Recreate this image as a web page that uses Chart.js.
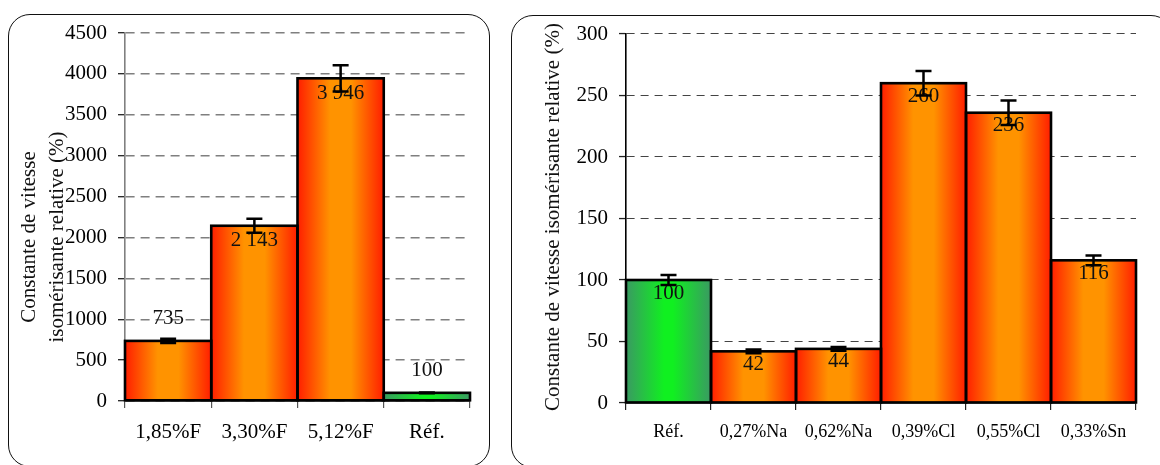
<!DOCTYPE html>
<html><head><meta charset="utf-8">
<script src="https://cdn.jsdelivr.net/npm/chart.js@4.4.1/dist/chart.umd.min.js"></script>
<style>
body{margin:0;background:#fff;width:1160px;height:465px;overflow:hidden;position:relative}
.frame{position:absolute;border:1.3px solid #111;border-radius:22px;box-sizing:border-box}
#f1{left:8px;top:14px;width:482px;height:453px}
#f2{left:511px;top:15px;width:662px;height:453px}
#w1{position:absolute;left:0;top:0;width:500px;height:465px}
#w2{position:absolute;left:500px;top:0;width:660px;height:465px}
</style></head>
<body>
<div class="frame" id="f1"></div><div class="frame" id="f2"></div>
<div id="w1"><canvas id="c1"></canvas></div>
<div id="w2"><canvas id="c2"></canvas></div>
<script>
// ---- data: left chart (fluorine) ----
const leftCategories = ['1,85%F', '3,30%F', '5,12%F', 'Réf.'];
const leftValues = [735, 2143, 3946, 100];
const leftErrors = [25, 85, 160, 5];
const leftIsReference = [false, false, false, true];
const leftLabelAbove = [true, false, false, true];
const leftAxisMax = 4500;
const leftAxisStep = 500;
const leftTitle = ['Constante de vitesse', 'isomérisante relative (%)'];

// ---- data: right chart ----
const rightCategories = ['Réf.', '0,27%Na', '0,62%Na', '0,39%Cl', '0,55%Cl', '0,33%Sn'];
const rightValues = [100, 42, 44, 260, 236, 116];
const rightErrors = [4, 1.5, 1.5, 10, 10, 4];
const rightIsReference = [true, false, false, false, false, false];
const rightLabelAbove = [false, false, false, false, false, false];
const rightAxisMax = 300;
const rightAxisStep = 50;
const rightTitle = ['Constante de vitesse isomérisante relative (%)'];

const ORANGE = [[0, '#ff1e00'], [0.38, '#ff9300'], [0.62, '#ff9300'], [1, '#ff1e00']];
const GREEN = [[0, '#3a9a62'], [0.45, '#10f020'], [0.55, '#10f020'], [1, '#3a9a62']];
const FONT = 'Liberation Serif';

function fmt(v) { return String(v).replace(/\B(?=(\d{3})+(?!\d))/g, ' '); }

function gradFn(isRef) {
  return function (c) {
    const fallback = isRef[c.dataIndex] ? '#10f020' : '#ff9300';
    if (c.type !== 'data') return '#ff9300';
    const xs = c.chart.scales.x;
    if (!xs) return fallback;
    const n = c.chart.data.labels.length;
    const w = xs.width / n;
    const cx = xs.getPixelForValue(c.dataIndex);
    if (!isFinite(w) || !isFinite(cx) || w <= 0) return fallback;
    const g = c.chart.ctx.createLinearGradient(cx - w / 2, 0, cx + w / 2, 0);
    (isRef[c.dataIndex] ? GREEN : ORANGE).forEach(s => g.addColorStop(s[0], s[1]));
    return g;
  };
}

const decor = {
  id: 'decor',
  afterDatasetsDraw(chart, args, o) {
    const ctx = chart.ctx;
    const ys = chart.scales.y;
    const meta = chart.getDatasetMeta(0);
    const vals = chart.data.datasets[0].data;
    ctx.save();
    ctx.strokeStyle = '#000';
    ctx.lineWidth = 2.6;
    meta.data.forEach(el => {
      ctx.strokeRect(el.x - el.width / 2, el.y, el.width, el.base - el.y);
    });
    ctx.fillStyle = '#111';
    ctx.font = o.labelFont + 'px "' + FONT + '"';
    ctx.textAlign = 'center';
    ctx.textBaseline = 'middle';
    meta.data.forEach((el, i) => {
      const dy = o.above[i] ? -o.aboveGap : o.insideGap;
      ctx.fillText(fmt(vals[i]), el.x, el.y + dy);
    });
    ctx.lineWidth = 2.5;
    ctx.strokeStyle = '#000';
    meta.data.forEach((el, i) => {
      const yt = ys.getPixelForValue(vals[i] + o.errors[i]);
      const yb = ys.getPixelForValue(vals[i] - o.errors[i]);
      ctx.beginPath();
      ctx.moveTo(el.x, yt); ctx.lineTo(el.x, yb);
      ctx.moveTo(el.x - 8, yt); ctx.lineTo(el.x + 8, yt);
      ctx.moveTo(el.x - 8, yb); ctx.lineTo(el.x + 8, yb);
      ctx.stroke();
    });
    ctx.restore();
  },
  afterDraw(chart, args, o) {
    const ctx = chart.ctx;
    ctx.save();
    ctx.fillStyle = '#111';
    ctx.font = o.titleFont + 'px "' + FONT + '"';
    ctx.textAlign = 'center';
    ctx.textBaseline = 'middle';
    ctx.translate(o.titleX, o.titleY);
    ctx.rotate(-Math.PI / 2);
    o.title.forEach((line, k) => ctx.fillText(line, 0, k * o.titleLine));
    ctx.restore();
  }
};

function makeChart(id, cats, vals, errs, isRef, above, max, step, title, s) {
  return new Chart(document.getElementById(id), {
    type: 'bar',
    data: { labels: cats, datasets: [{ data: vals, backgroundColor: gradFn(isRef), borderWidth: 0, barPercentage: 1, categoryPercentage: 1 }] },
    options: {
      responsive: true, maintainAspectRatio: false, animation: false, devicePixelRatio: 1,
      layout: { padding: s.padding },
      plugins: {
        legend: { display: false }, tooltip: { enabled: false },
        decor: { errors: errs, above: above, labelFont: 21, aboveGap: s.aboveGap, insideGap: s.insideGap,
                 title: title, titleFont: 21, titleX: s.titleX, titleY: s.titleY, titleLine: s.titleLine }
      },
      scales: {
        x: {
          offset: true,
          grid: { display: true, drawOnChartArea: false, drawTicks: true, tickLength: 7, color: s.xTickColor, offset: true, lineWidth: 1.2 },
          border: { color: '#000', width: 1.6 },
          ticks: { font: { family: FONT, size: s.xFont }, color: '#000', padding: s.xPad, autoSkip: false, maxRotation: 0 },
          afterFit(sc) { sc.height = s.xHeight; }
        },
        y: {
          min: 0, max: max,
          ticks: { stepSize: step, font: { family: FONT, size: 21 }, color: '#000', padding: 11, callback: v => String(v) },
          grid: { color: s.gridColor, lineWidth: s.gridWidth, tickLength: 7, tickColor: '#222', tickWidth: 1.3, tickBorderDash: [] },
          border: { color: s.yAxisColor, width: 1.6, dash: s.dash },
          afterFit(sc) { sc.width = s.yWidth; }
        }
      }
    },
    plugins: [decor]
  });
}

makeChart('c1', leftCategories, leftValues, leftErrors, leftIsReference, leftLabelAbove, leftAxisMax, leftAxisStep, leftTitle, {
  padding: { top: 33, right: 30, bottom: 0, left: 0 }, yWidth: 125, xHeight: 64, xFont: 21, xPad: 12,
  xTickColor: '#555', gridColor: '#7f7f7f', gridWidth: 1.4, dash: [9, 6], yAxisColor: '#808080',
  aboveGap: 22, insideGap: 15, titleX: 29, titleY: 237, titleLine: 28
});
makeChart('c2', rightCategories, rightValues, rightErrors, rightIsReference, rightLabelAbove, rightAxisMax, rightAxisStep, rightTitle, {
  padding: { top: 34, right: 24, bottom: 0, left: 0 }, yWidth: 126, xHeight: 62, xFont: 18, xPad: 11,
  xTickColor: '#222', gridColor: '#444', gridWidth: 1.1, dash: [8, 6], yAxisColor: '#000',
  aboveGap: 22, insideGap: 13, titleX: 53, titleY: 217, titleLine: 28
});
</script>
</body></html>
